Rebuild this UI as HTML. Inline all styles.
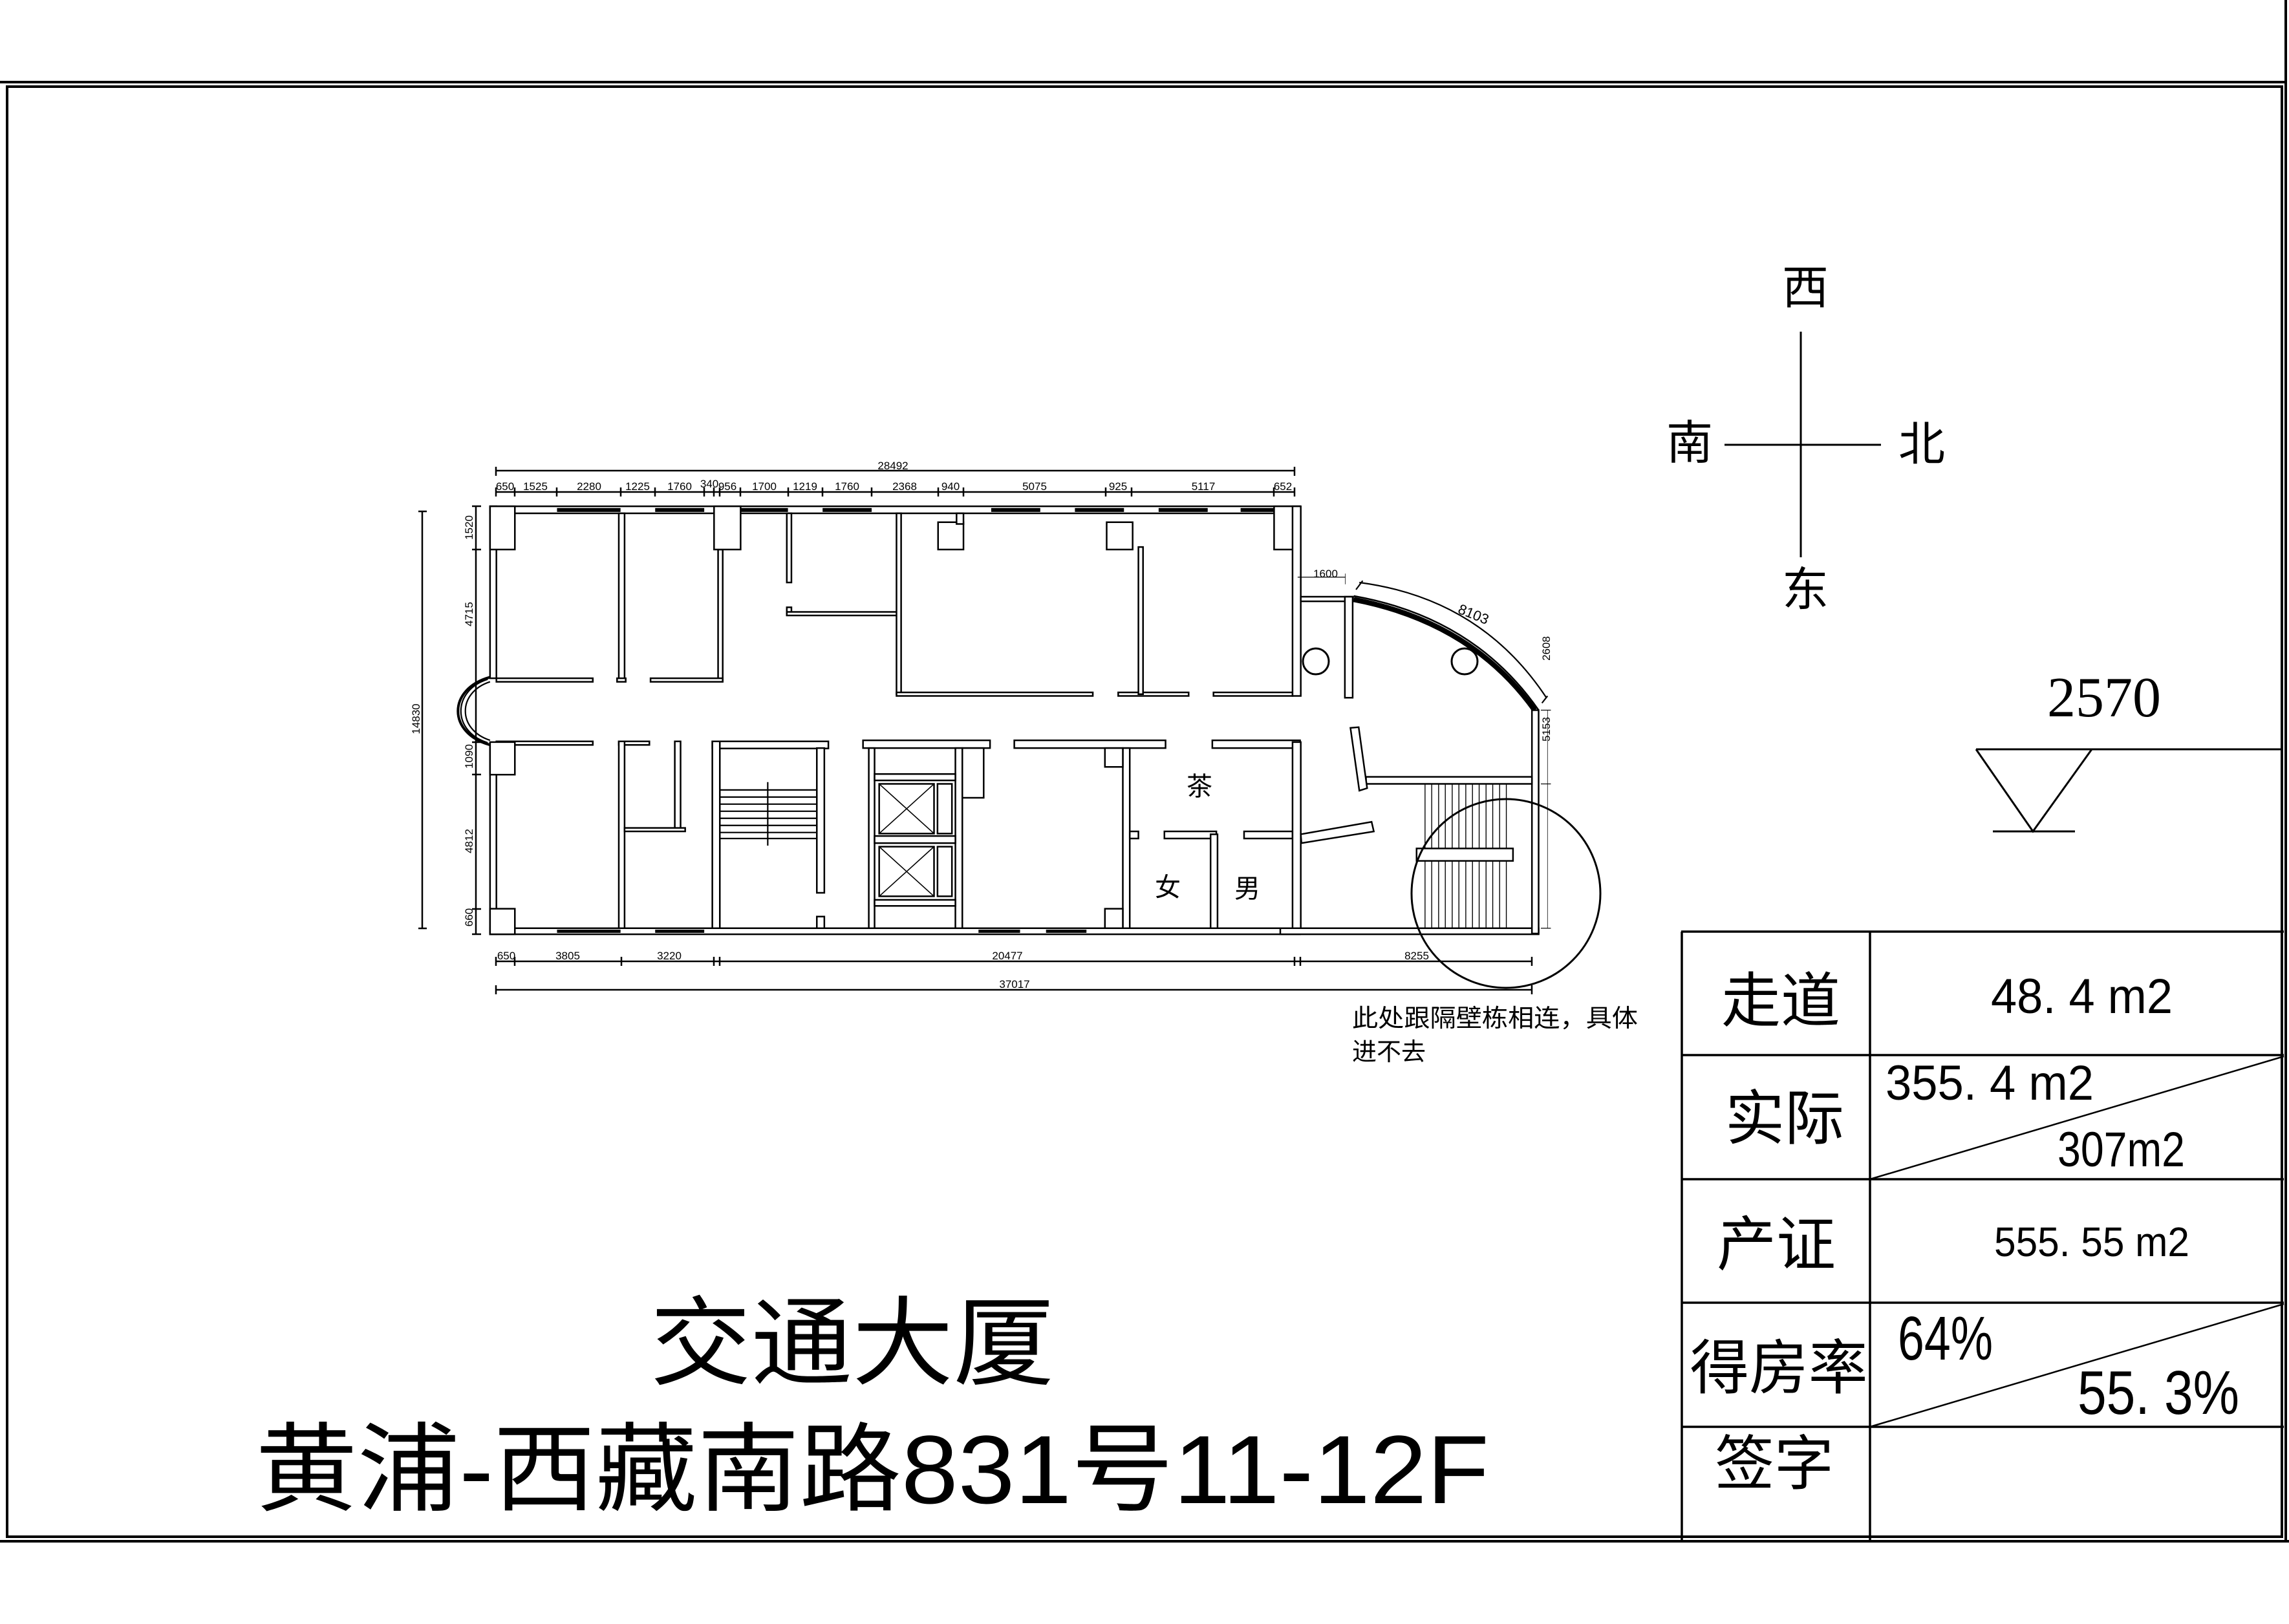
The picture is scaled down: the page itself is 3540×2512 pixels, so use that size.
<!DOCTYPE html>
<html><head><meta charset="utf-8"><style>
html,body{margin:0;padding:0;background:#fff}
svg{display:block}
.w{fill:#fff;stroke:#000;stroke-width:2.5;vector-effect:non-scaling-stroke}
.k{fill:#000;stroke:none}
.l{fill:none;stroke:#000;stroke-width:2.2;vector-effect:non-scaling-stroke}
.s{fill:none;stroke:#000;stroke-width:4;vector-effect:non-scaling-stroke}
.d{fill:none;stroke:#000;stroke-width:2.5}
.t{font-family:"Liberation Sans",sans-serif;font-size:17px;fill:#000}
.c{font-family:"Liberation Sans","Noto Sans CJK SC",sans-serif;fill:#000}
</style></head><body>
<svg width="3540" height="2512" viewBox="0 0 3540 2512" xmlns="http://www.w3.org/2000/svg">
<rect width="3540" height="2512" fill="#fff"/>
<line x1="0" y1="127" x2="3534" y2="127" stroke="#000" stroke-width="4"/>
<rect x="11" y="134" width="3518" height="2243" fill="none" stroke="#000" stroke-width="4"/>
<line x1="0" y1="2384" x2="3540" y2="2384" stroke="#000" stroke-width="4"/>
<line x1="3535" y1="0" x2="3535" y2="2384" stroke="#000" stroke-width="4"/>

<g transform="translate(640,720) scale(0.8929,0.5485)">
  <rect class="w" x="132" y="115" width="1403" height="20"/>
  <rect class="w" x="132" y="1305" width="1403" height="17"/>
  <rect class="w" x="132" y="115" width="11" height="485"/>
  <rect class="w" x="132" y="785" width="11" height="537"/>
  <g class="k">
    <rect x="248" y="120" width="110" height="11"/><rect x="418" y="120" width="85" height="11"/>
    <rect x="566" y="120" width="82" height="11"/><rect x="708" y="120" width="85" height="11"/>
    <rect x="1000" y="120" width="85" height="11"/><rect x="1145" y="120" width="85" height="11"/>
    <rect x="1290" y="120" width="85" height="11"/><rect x="1432" y="120" width="58" height="11"/>
    <rect x="248" y="1309" width="110" height="9"/><rect x="418" y="1309" width="85" height="9"/>
    <rect x="978" y="1309" width="72" height="9"/><rect x="1095" y="1309" width="70" height="9"/>
  </g>
  <path class="s" d="M132,597 C58,630 58,755 132,788"/>
  <path class="l" d="M132,610 C75,640 75,745 132,775"/>
  <path class="l" d="M128,603 C66,635 66,750 128,782"/>
  <rect class="w" x="355" y="135" width="10" height="470"/>
  <rect class="w" x="527" y="237" width="8" height="370"/>
  <rect class="w" x="143" y="600" width="167" height="10"/>
  <rect class="w" x="352" y="600" width="15" height="10"/>
  <rect class="w" x="410" y="600" width="125" height="10"/>
  <rect class="w" x="646" y="135" width="8" height="195"/>
  <rect class="w" x="646" y="400" width="8" height="22"/>
  <rect class="w" x="646" y="413" width="191" height="10"/>
  <rect class="w" x="836" y="135" width="8" height="510"/>
  <rect class="w" x="836" y="640" width="340" height="10"/>
  <rect class="w" x="1220" y="640" width="122" height="10"/>
  <rect class="w" x="1385" y="640" width="137" height="10"/>
  <rect class="w" x="908" y="160" width="44" height="77"/>
  <rect class="w" x="940" y="135" width="12" height="30"/>
  <rect class="w" x="1200" y="160" width="45" height="77"/>
  <rect class="w" x="1255" y="230" width="8" height="415"/>
  <rect class="w" x="143" y="778" width="167" height="10"/>
  <rect class="w" x="355" y="778" width="53" height="10"/>
  <rect class="w" x="355" y="778" width="10" height="527"/>
  <rect class="w" x="452" y="778" width="10" height="250"/>
  <rect class="w" x="365" y="1022" width="105" height="10"/>
  <rect class="w" x="517" y="778" width="201" height="20"/>
  <rect class="w" x="517" y="778" width="13" height="527"/>
  <rect class="w" x="698" y="797" width="13" height="408"/>
  <rect class="w" x="698" y="1272" width="13" height="33"/>
  <g class="s">
    <line x1="530" y1="915" x2="698" y2="915"/><line x1="530" y1="935" x2="698" y2="935"/>
    <line x1="530" y1="955" x2="698" y2="955"/><line x1="530" y1="975" x2="698" y2="975"/>
    <line x1="530" y1="995" x2="698" y2="995"/><line x1="530" y1="1015" x2="698" y2="1015"/>
    <line x1="530" y1="1035" x2="698" y2="1035"/><line x1="530" y1="1052" x2="698" y2="1052"/>
  </g>
  <line class="l" x1="613" y1="893" x2="613" y2="1072"/>
  <rect class="w" x="778" y="775" width="220" height="22"/>
  <rect class="w" x="788" y="797" width="10" height="508"/>
  <rect class="w" x="938" y="797" width="12" height="508"/>
  <rect class="w" x="950" y="797" width="37" height="140"/>
  <rect class="w" x="798" y="870" width="140" height="18"/>
  <rect class="w" x="798" y="1045" width="140" height="20"/>
  <rect class="w" x="798" y="1225" width="140" height="17"/>
  <rect class="w" x="806" y="898" width="95" height="140"/>
  <rect class="w" x="907" y="898" width="25" height="140"/>
  <rect class="w" x="806" y="1075" width="95" height="140"/>
  <rect class="w" x="907" y="1075" width="25" height="140"/>
  <g class="l">
    <line x1="806" y1="898" x2="901" y2="1038"/><line x1="901" y1="898" x2="806" y2="1038"/>
    <line x1="806" y1="1075" x2="901" y2="1215"/><line x1="901" y1="1075" x2="806" y2="1215"/>
  </g>
  <rect class="w" x="1040" y="775" width="262" height="22"/>
  <rect class="w" x="1383" y="775" width="152" height="22"/>
  <rect class="w" x="1228" y="797" width="12" height="508"/>
  <rect class="w" x="1197" y="797" width="31" height="53"/>
  <rect class="w" x="1197" y="1250" width="31" height="55"/>
  <rect class="w" x="1240" y="1032" width="15" height="20"/>
  <rect class="w" x="1300" y="1032" width="90" height="20"/>
  <rect class="w" x="1380" y="1040" width="12" height="265"/>
  <rect class="w" x="1438" y="1032" width="84" height="20"/>
  <rect class="w" x="132" y="115" width="43" height="122"/>
  <rect class="w" x="520" y="115" width="46" height="122"/>
  <rect class="w" x="1490" y="115" width="45" height="122"/>
  <rect class="w" x="132" y="780" width="43" height="92"/>
  <rect class="w" x="132" y="1250" width="43" height="72"/>
</g>

<g transform="translate(1980,720) scale(0.3444,0.5485)">
  <rect class="w" x="55" y="115" width="37" height="535"/>
  <rect class="w" x="55" y="780" width="37" height="525"/>
  <rect class="w" x="0" y="1305" width="1160" height="17"/>
  <rect class="w" x="92" y="370" width="235" height="13"/>
  <rect class="w" x="290" y="370" width="35" height="285"/>
  <path d="M330,378 Q860,442 1142,690" fill="none" stroke="#000" stroke-width="8" vector-effect="non-scaling-stroke"/>
  <path d="M330,368 Q870,428 1160,690" fill="none" stroke="#000" stroke-width="2.5" vector-effect="non-scaling-stroke"/>
  <path class="l" d="M355,330 Q900,375 1195,655"/>
  <line class="l" x1="340" y1="350" x2="370" y2="325"/>
  <line class="l" x1="1175" y1="670" x2="1200" y2="650"/>
  <rect class="w" x="1130" y="690" width="30" height="630"/>
  <rect class="w" x="385" y="878" width="745" height="20"/>
  <polygon class="w" points="315,740 352,738 390,910 355,917"/>
  <polygon class="w" points="92,1040 410,1005 420,1032 95,1065"/>
  <g class="s">
    <line x1="650" y1="898" x2="650" y2="1305"/><line x1="680" y1="898" x2="680" y2="1305"/>
    <line x1="711" y1="898" x2="711" y2="1305"/><line x1="741" y1="898" x2="741" y2="1305"/>
    <line x1="772" y1="898" x2="772" y2="1305"/><line x1="802" y1="898" x2="802" y2="1305"/>
    <line x1="833" y1="898" x2="833" y2="1305"/><line x1="863" y1="898" x2="863" y2="1305"/>
    <line x1="893" y1="898" x2="893" y2="1305"/><line x1="924" y1="898" x2="924" y2="1305"/>
    <line x1="954" y1="898" x2="954" y2="1305"/><line x1="985" y1="898" x2="985" y2="1305"/>
    <line x1="1015" y1="898" x2="1015" y2="1305"/>
  </g>
  <g class="l">
    <line x1="1200" y1="690" x2="1200" y2="1305"/>
    <line x1="1170" y1="690" x2="1215" y2="690"/><line x1="1170" y1="898" x2="1215" y2="898"/>
    <line x1="1170" y1="1305" x2="1215" y2="1305"/>
    <line x1="78" y1="315" x2="292" y2="315"/><line x1="292" y1="305" x2="292" y2="335"/>
  </g>
  <rect class="w" x="612" y="1080" width="433" height="35"/>
</g>
<circle cx="2035" cy="1023" r="20" fill="none" stroke="#000" stroke-width="3"/>
<circle cx="2265" cy="1023" r="20" fill="none" stroke="#000" stroke-width="3"/>
<circle cx="2329" cy="1382" r="146" fill="none" stroke="#000" stroke-width="3"/>

<g class="d">
  <line x1="767" y1="728" x2="2002" y2="728"/>
  <line x1="767" y1="722" x2="767" y2="736"/><line x1="2002" y1="722" x2="2002" y2="736"/>
  <line x1="767" y1="761" x2="2002" y2="761"/>
  <path d="M767,754v14M796,754v14M861,754v14M960,754v14M1013,754v14M1089,754v14M1104,754v14M1113,754v14M1145,754v14M1219,754v14M1272,754v14M1348,754v14M1451,754v14M1490,754v14M1710,754v14M1750,754v14M1970,754v14M2002,754v14"/>
  <line x1="653" y1="791" x2="653" y2="1436"/>
  <line x1="647" y1="791" x2="660" y2="791"/><line x1="647" y1="1436" x2="660" y2="1436"/>
  <line x1="736" y1="783" x2="736" y2="1445"/>
  <path d="M730,783h14M730,850h14M730,1148h14M730,1198h14M730,1406h14M730,1445h14"/>
  <line x1="767" y1="1487" x2="2369" y2="1487"/>
  <path d="M767,1480v14M796,1480v14M961,1480v14M1104,1480v14M1113,1480v14M2002,1480v14M2011,1480v14M2369,1480v14"/>
  <line x1="767" y1="1531" x2="2369" y2="1531"/>
  <path d="M767,1524v14M2369,1524v14"/>
</g>
<g class="t" text-anchor="middle">
  <text x="1381" y="726">28492</text>
  <text x="781" y="758">650</text><text x="828" y="758">1525</text><text x="911" y="758">2280</text>
  <text x="986" y="758">1225</text><text x="1051" y="758">1760</text><text x="1097" y="754">340</text>
  <text x="1125" y="758">956</text><text x="1182" y="758">1700</text><text x="1245" y="758">1219</text>
  <text x="1310" y="758">1760</text><text x="1399" y="758">2368</text><text x="1470" y="758">940</text>
  <text x="1600" y="758">5075</text><text x="1729" y="758">925</text><text x="1861" y="758">5117</text>
  <text x="1984" y="758">652</text>
  <text x="2050" y="893">1600</text>
  <text x="783" y="1484">650</text><text x="878" y="1484">3805</text><text x="1035" y="1484">3220</text>
  <text x="1558" y="1484">20477</text><text x="2191" y="1484">8255</text>
  <text x="1569" y="1528">37017</text>
  <text transform="translate(731,816) rotate(-90)">1520</text>
  <text transform="translate(731,950) rotate(-90)">4715</text>
  <text transform="translate(731,1170) rotate(-90)">1090</text>
  <text transform="translate(731,1301) rotate(-90)">4812</text>
  <text transform="translate(731,1419) rotate(-90)">660</text>
  <text transform="translate(649,1112) rotate(-90)">14830</text>
  <text transform="translate(2397,1003) rotate(-90)">2608</text>
  <text transform="translate(2397,1128) rotate(-90)">5153</text>
  <text transform="translate(2276,957) rotate(22)" font-size="22">8103</text>
</g>
<g class="c" font-size="40" text-anchor="middle">
  <text x="1855" y="1230">茶</text>
  <text x="1806" y="1386">女</text>
  <text x="1929" y="1388">男</text>
</g>
<g class="c" font-size="38">
  <text x="2091" y="1588" textLength="442" lengthAdjust="spacingAndGlyphs">此处跟隔壁栋相连，具体</text>
  <text x="2091" y="1640">进不去</text>
</g>

<line x1="2785" y1="513" x2="2785" y2="862" stroke="#000" stroke-width="3"/>
<line x1="2667" y1="688" x2="2909" y2="688" stroke="#000" stroke-width="3"/>
<g class="c" font-size="72" text-anchor="middle">
  <text x="2792" y="470">西</text>
  <text x="2613" y="710">南</text>
  <text x="2972" y="712">北</text>
  <text x="2792" y="937">东</text>
</g>
<text x="3254" y="1108" font-family="Liberation Serif,serif" font-size="88" text-anchor="middle">2570</text>
<polyline points="3056,1159 3144,1286 3235,1159" fill="none" stroke="#000" stroke-width="3"/>
<line x1="3056" y1="1159" x2="3530" y2="1159" stroke="#000" stroke-width="3"/>
<line x1="3082" y1="1286" x2="3209" y2="1286" stroke="#000" stroke-width="3"/>

<g stroke="#000" stroke-width="3.5" fill="none">
  <line x1="2600" y1="1441" x2="3532" y2="1441"/>
  <line x1="2600" y1="1632" x2="3532" y2="1632"/>
  <line x1="2600" y1="1824" x2="3532" y2="1824"/>
  <line x1="2600" y1="2015" x2="3532" y2="2015"/>
  <line x1="2600" y1="2207" x2="3532" y2="2207"/>
  <line x1="2601" y1="1441" x2="2601" y2="2384"/>
  <line x1="2892" y1="1441" x2="2892" y2="2384"/>
</g>
<line x1="2892" y1="1824" x2="3532" y2="1634" stroke="#000" stroke-width="2.5"/>
<line x1="2892" y1="2207" x2="3532" y2="2017" stroke="#000" stroke-width="2.5"/>
<g class="c" font-size="92" text-anchor="middle">
  <text x="2754" y="1580">走道</text>
  <text x="2760" y="1762">实际</text>
  <text x="2747" y="1957">产证</text>
  <text x="2751" y="2148" textLength="275" lengthAdjust="spacingAndGlyphs">得房率</text>
  <text x="2744" y="2296">签字</text>
</g>
<g class="c" font-size="76" lengthAdjust="spacingAndGlyphs">
  <text x="3079" y="1567" textLength="281" lengthAdjust="spacingAndGlyphs">48. 4  m2</text>
  <text x="2916" y="1701" textLength="322" lengthAdjust="spacingAndGlyphs">355. 4  m2</text>
  <text x="3182" y="1804" textLength="197" lengthAdjust="spacingAndGlyphs">307m2</text>
  <text x="3084" y="1943" font-size="64" textLength="302" lengthAdjust="spacingAndGlyphs">555. 55  m2</text>
  <text x="2935" y="2103" font-size="96" textLength="147" lengthAdjust="spacingAndGlyphs">64%</text>
  <text x="3213" y="2187" font-size="96" textLength="250" lengthAdjust="spacingAndGlyphs">55. 3%</text>
</g>

<g class="c" text-anchor="middle">
  <text x="1318" y="2130" font-size="150" textLength="625" lengthAdjust="spacingAndGlyphs">交通大厦</text>
  <text x="1349" y="2325" font-size="150" textLength="1908" lengthAdjust="spacingAndGlyphs">黄浦-西藏南路831号11-12F</text>
</g>
</svg>
</body></html>
